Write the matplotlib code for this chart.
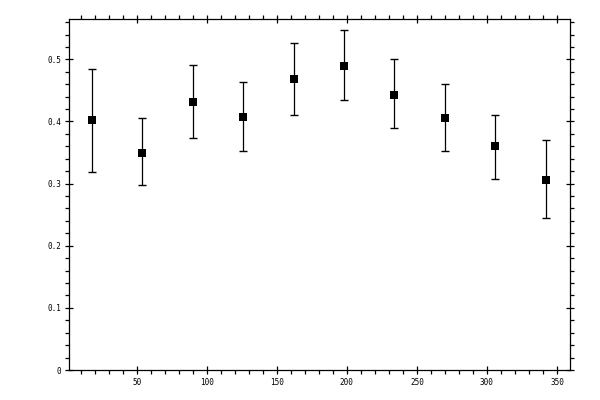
import matplotlib
matplotlib.use("Agg")
import matplotlib.pyplot as plt
from matplotlib.ticker import MultipleLocator, FuncFormatter
import numpy as np

x = [18, 54, 90, 126, 162, 198, 234, 270, 306, 342]
y = [0.402, 0.350, 0.432, 0.408, 0.469, 0.490, 0.443, 0.406, 0.360, 0.306]
y_hi = [0.484, 0.405, 0.491, 0.463, 0.526, 0.548, 0.500, 0.460, 0.410, 0.370]
y_lo = [0.319, 0.297, 0.373, 0.353, 0.411, 0.434, 0.389, 0.352, 0.308, 0.245]

yarr = np.array(y)
yerr = [yarr - np.array(y_lo), np.array(y_hi) - yarr]

fig = plt.figure(figsize=(6, 4), dpi=100)
ax = fig.add_axes([0.1155, 0.075, 0.95 - 0.1155, 0.95175 - 0.075])

ax.errorbar(x, y, yerr=yerr, fmt='none', ecolor='black',
            elinewidth=0.9, capsize=3.0, capthick=1.0, zorder=2)
ax.plot(x, y, 's', color='black', markersize=5.3, markeredgewidth=0, zorder=3)

ax.set_xlim(1.9, 359.3)
ax.set_ylim(0, 0.5645)

ax.xaxis.set_major_locator(MultipleLocator(50))
ax.xaxis.set_minor_locator(MultipleLocator(10))
ax.yaxis.set_major_locator(MultipleLocator(0.1))
ax.yaxis.set_minor_locator(MultipleLocator(0.02))

def yfmt(v, pos):
    if abs(v) < 1e-9:
        return "0"
    return "%.1f" % v

def xfmt(v, pos):
    return "%d" % round(v)

ax.yaxis.set_major_formatter(FuncFormatter(yfmt))
ax.xaxis.set_major_formatter(FuncFormatter(xfmt))

for sp in ax.spines.values():
    sp.set_linewidth(0.9)

ax.tick_params(which='major', direction='inout', length=5.8, width=0.9,
               top=True, right=True, labelsize=5.5, pad=3)
ax.tick_params(which='minor', direction='out', length=2.9, width=0.9,
               top=True, right=True)
for lab in ax.get_xticklabels() + ax.get_yticklabels():
    lab.set_family('DejaVu Sans Mono')

fig.savefig("out.png", dpi=100)
